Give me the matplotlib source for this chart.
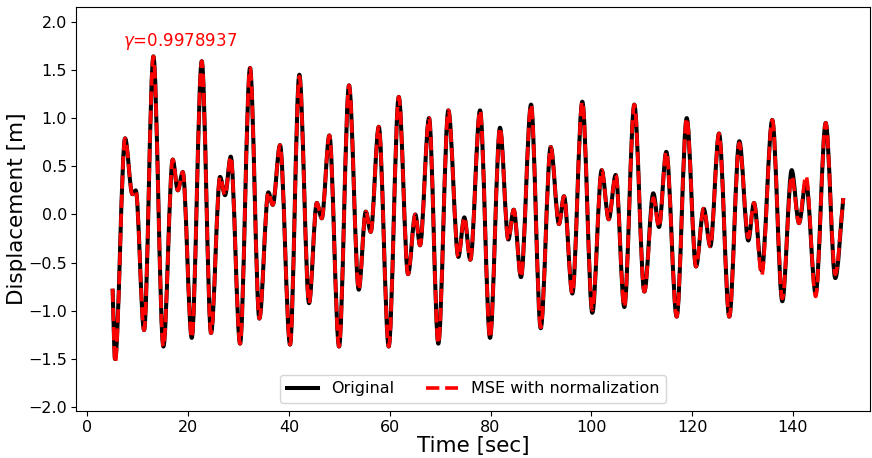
import matplotlib
matplotlib.use("Agg")
import matplotlib.pyplot as plt
from matplotlib.path import Path
from matplotlib.patches import PathPatch
from matplotlib.lines import Line2D

# Displacement time history: turning points of the response (time in s, displacement in m)
time_sec = [
    5.00, 5.50, 7.48, 8.93, 9.60, 11.25, 13.10, 15.08, 16.94, 17.94, 18.93, 20.71,
    22.70, 24.54, 26.33, 27.32, 28.45, 30.30, 32.28, 34.13, 35.91, 36.79, 38.23,
    40.22, 42.06, 43.99, 45.52, 46.51, 48.02, 49.94, 51.92, 53.85, 55.24, 56.23,
    57.82, 59.80, 61.79, 63.63, 65.08, 66.01, 67.80, 69.64, 71.63, 73.61, 74.80,
    75.99, 77.92, 79.90, 81.88, 83.53, 84.60, 86.05, 88.04, 89.96, 91.94, 93.59,
    94.58, 96.23, 98.21, 100.20, 102.06, 103.45, 104.84, 106.55, 108.53, 110.52,
    112.30, 113.43, 114.88, 116.94, 118.93, 120.77, 122.30, 123.61, 125.34, 127.38,
    129.37, 131.15, 132.28, 133.81, 135.91, 137.90, 139.76, 141.21, 142.60, 144.52,
    146.51, 148.41, 150.00,
]

disp_original = [
    -0.77, -1.50, 0.79, 0.21, 0.25, -1.20, 1.64, -1.37, 0.57, 0.25, 0.44, -1.28,
    1.59, -1.23, 0.39, 0.20, 0.60, -1.34, 1.52, -1.08, 0.23, 0.10, 0.72,
    -1.35, 1.45, -0.92, 0.12, -0.04, 0.82, -1.37, 1.34, -0.78, 0.03, -0.18,
    0.91, -1.37, 1.22, -0.62, 0.00, -0.32, 1.00, -1.34, 1.08, -0.44, -0.03,
    -0.47, 1.08, -1.28, 0.90, -0.26, 0.05, -0.65, 1.14, -1.18, 0.70, -0.10,
    0.19, -0.82, 1.17, -1.02, 0.46, -0.05, 0.41, -0.96, 1.14, -0.80,
    0.22, -0.13, 0.65, -1.06, 1.00, -0.54, 0.06, -0.33, 0.84, -1.06,
    0.76, -0.27, 0.12, -0.58, 0.98, -0.90, 0.46, -0.09, 0.34, -0.82,
    0.95, -0.66, 0.17,
]

disp_mse_norm = [
    -0.77, -1.54, 0.79, 0.21, 0.25, -1.20, 1.64, -1.37, 0.57, 0.25, 0.44, -1.28,
    1.59, -1.23, 0.39, 0.20, 0.60, -1.34, 1.52, -1.08, 0.23, 0.10, 0.72,
    -1.35, 1.43, -0.92, 0.12, -0.04, 0.82, -1.37, 1.34, -0.78, 0.03, -0.18,
    0.91, -1.37, 1.22, -0.62, 0.00, -0.32, 1.00, -1.34, 1.08, -0.44, -0.03,
    -0.47, 1.08, -1.28, 0.90, -0.26, 0.05, -0.65, 1.14, -1.17, 0.70, -0.10,
    0.19, -0.82, 1.17, -0.99, 0.46, -0.05, 0.41, -0.96, 1.14, -0.80,
    0.17, -0.13, 0.65, -1.06, 1.00, -0.54, 0.06, -0.33, 0.84, -1.06,
    0.74, -0.24, 0.12, -0.63, 0.98, -0.87, 0.40, -0.09, 0.40, -0.85,
    0.95, -0.62, 0.17,
]

series_labels = ["Original", "MSE with normalization"]
gamma_text = r"$\gamma$=0.9978937"


def response_path(t, y):
    """Smooth path through the turning points: flat tangent at each extremum,
    sloped tangent at the open ends of the record."""
    n = len(t)
    verts = [(t[0], y[0])]
    codes = [Path.MOVETO]
    for i in range(n - 1):
        h = t[i + 1] - t[i]
        dy = y[i + 1] - y[i]
        s0 = dy / 3.0 if i == 0 else 0.0
        s1 = dy / 3.0 if i == n - 2 else 0.0
        verts += [(t[i] + h / 3.0, y[i] + s0),
                  (t[i + 1] - h / 3.0, y[i + 1] - s1),
                  (t[i + 1], y[i + 1])]
        codes += [Path.CURVE4] * 3
    return Path(verts, codes)


plt.rcParams["font.family"] = ["DejaVu Sans"]

fig = plt.figure(figsize=(8.72, 4.58), dpi=100)
ax = fig.add_axes([0.0872, 0.1033, 0.9105, 0.8814])

lw_orig, lw_mse = 2.9, 2.6
ax.add_patch(PathPatch(response_path(time_sec, disp_original), facecolor="none",
                       edgecolor="black", lw=lw_orig, joinstyle="round",
                       capstyle="butt", transform=ax.transData))
ax.add_patch(PathPatch(response_path(time_sec, disp_mse_norm), facecolor="none",
                       edgecolor="red", lw=lw_mse, ls="--", joinstyle="round",
                       capstyle="butt", transform=ax.transData))

ax.text(7.0, 1.745, gamma_text, color="red", fontsize=12, va="baseline")

ax.set_xlim(-2.25, 155.3)
ax.set_ylim(-2.035, 2.152)
ax.set_xticks([0, 20, 40, 60, 80, 100, 120, 140])
ax.set_yticks([-2.0, -1.5, -1.0, -0.5, 0.0, 0.5, 1.0, 1.5, 2.0])
ax.tick_params(labelsize=11.5, pad=3)

ax.set_xlabel("Time [sec]", fontsize=15.5, labelpad=1)
ax.set_ylabel("Displacement [m]", fontsize=15.5, labelpad=1)

handles = [Line2D([], [], color="black", lw=lw_orig),
           Line2D([], [], color="red", lw=lw_mse, ls="--")]
ax.legend(handles, series_labels, loc="lower center", ncol=2, fontsize=11.5,
          handlelength=2.0, columnspacing=2.0)

fig.savefig("out.png", dpi=100)
